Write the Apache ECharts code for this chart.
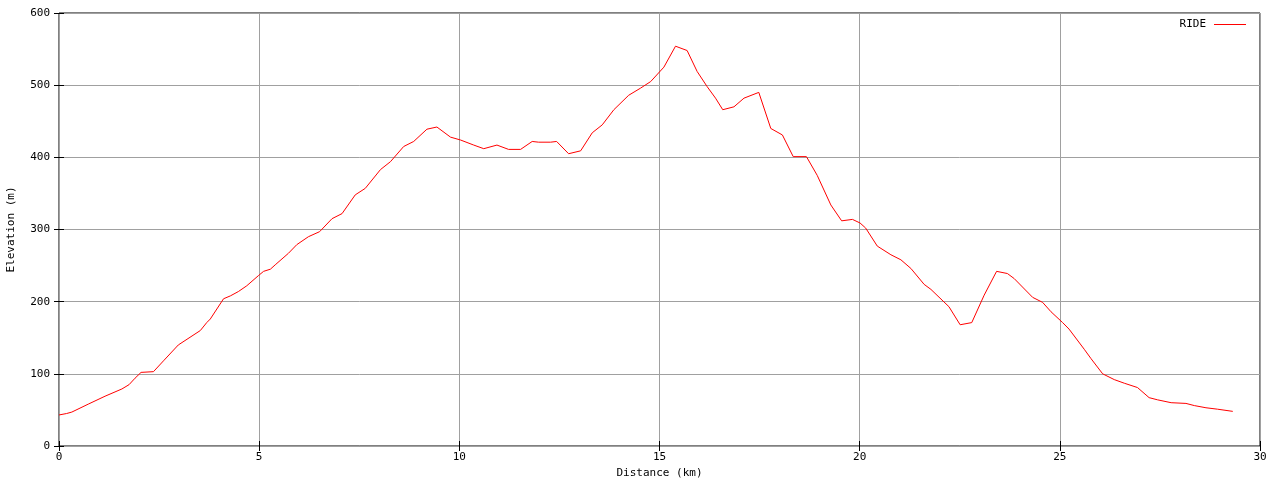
<!DOCTYPE html>
<html>
<head>
<meta charset="utf-8">
<script src="https://cdn.jsdelivr.net/npm/echarts@6/dist/echarts.min.js"></script>
<style>html,body{margin:0;padding:0;background:#fff}#c{width:1280px;height:480px}</style>
</head>
<body>
<div id="c"></div>
<script>
var distanceKm = [0, 0.19, 0.32, 0.73, 1.15, 1.57, 1.75, 1.9, 2.05, 2.36, 2.61, 2.98, 3.53, 3.69, 3.78, 4.11, 4.28, 4.48, 4.69, 4.98, 5.11, 5.28, 5.4, 5.73, 5.94, 6.23, 6.51, 6.82, 7.07, 7.4, 7.65, 8.03, 8.28, 8.61, 8.86, 9.19, 9.44, 9.78, 10.03, 10.36, 10.61, 10.94, 11.23, 11.53, 11.82, 11.98, 12.28, 12.43, 12.73, 13.03, 13.32, 13.57, 13.86, 14.23, 14.53, 14.78, 15.11, 15.4, 15.69, 15.94, 16.19, 16.4, 16.58, 16.86, 17.11, 17.48, 17.78, 18.07, 18.34, 18.67, 18.94, 19.28, 19.55, 19.82, 20.01, 20.15, 20.44, 20.78, 21.03, 21.28, 21.61, 21.78, 22.23, 22.51, 22.8, 23.11, 23.42, 23.69, 23.86, 24.32, 24.57, 24.78, 25.07, 25.23, 25.61, 25.78, 26.07, 26.36, 26.61, 26.94, 27.23, 27.44, 27.78, 28.15, 28.36, 28.65, 28.94, 29.32];
var elevationM = [43, 45, 47, 58, 69, 79, 85, 94, 102, 103, 118, 140, 160, 171, 176, 204, 208, 214, 222, 236, 242, 245, 251, 267, 279, 290, 297, 315, 322, 348, 357, 383, 394, 415, 422, 439, 442, 428, 424, 417, 412, 417, 411, 411, 422, 421, 421, 422, 405, 409, 434, 445, 466, 486, 496, 505, 525, 554, 548, 519, 498, 482, 466, 470, 482, 490, 440, 431, 401, 401, 375, 334, 312, 314, 309, 302, 277, 265, 258, 246, 224, 217, 193, 168, 171, 209, 242, 239, 232, 206, 199, 186, 171, 162, 134, 121, 100, 92, 87, 81, 67, 64, 60, 59, 56, 53, 51, 48];
var seriesName = 'RIDE';
var xTitle = 'Distance (km)';
var yTitle = 'Elevation (m)';

var pts = distanceKm.map(function (d, i) { return [d, elevationM[i]]; });
var font = 'DejaVu Sans Mono';
var chart = echarts.init(document.getElementById('c'), null, {renderer: 'canvas'});
var tick = {show: true, inside: true, length: 5, lineStyle: {color: '#000', width: 1}};
chart.setOption({
  animation: false,
  backgroundColor: '#fff',
  textStyle: {fontFamily: font},
  grid: {left: 59, right: 20, top: 13, bottom: 34, outerBoundsMode: 'none', containLabel: false, show: true, borderColor: '#000', borderWidth: 1, backgroundColor: 'transparent'},
  legend: {
    right: 29, top: 14, align: 'right', itemWidth: 32, itemHeight: 1, itemGap: 8,
    icon: 'rect',
    textStyle: {fontFamily: font, fontSize: 11, color: '#000', padding: [0, 3, 0, 0]},
    data: [seriesName]
  },
  xAxis: [{
    type: 'value', min: 0, max: 30, interval: 5,
    name: xTitle, nameLocation: 'middle', nameGap: 22,
    nameTextStyle: {fontFamily: font, fontSize: 11, color: '#000'},
    axisLine: {show: false}, axisTick: tick,
    axisLabel: {fontFamily: font, fontSize: 11, color: '#000', margin: 6},
    splitLine: {show: true, lineStyle: {color: '#a0a0a0', width: 1}}
  }, {
    type: 'value', min: 0, max: 30, interval: 5, position: 'top',
    axisLine: {show: false}, axisTick: tick, axisLabel: {show: false}, splitLine: {show: false}
  }],
  yAxis: [{
    type: 'value', min: 0, max: 600, interval: 100,
    name: yTitle, nameLocation: 'middle', nameGap: 42, nameRotate: 90,
    nameTextStyle: {fontFamily: font, fontSize: 11, color: '#000'},
    axisLine: {show: false}, axisTick: tick,
    axisLabel: {fontFamily: font, fontSize: 11, color: '#000', margin: 9},
    splitLine: {show: true, lineStyle: {color: '#a0a0a0', width: 1}}
  }, {
    type: 'value', min: 0, max: 600, interval: 100, position: 'right',
    axisLine: {show: false}, axisTick: tick, axisLabel: {show: false}, splitLine: {show: false}
  }],
  series: [{
    name: seriesName, type: 'line', data: pts, xAxisIndex: 0, yAxisIndex: 0,
    showSymbol: false, symbol: 'none', smooth: false,
    lineStyle: {color: '#ff0000', width: 1}, itemStyle: {color: '#ff0000'}
  }]
});
</script>
</body>
</html>
